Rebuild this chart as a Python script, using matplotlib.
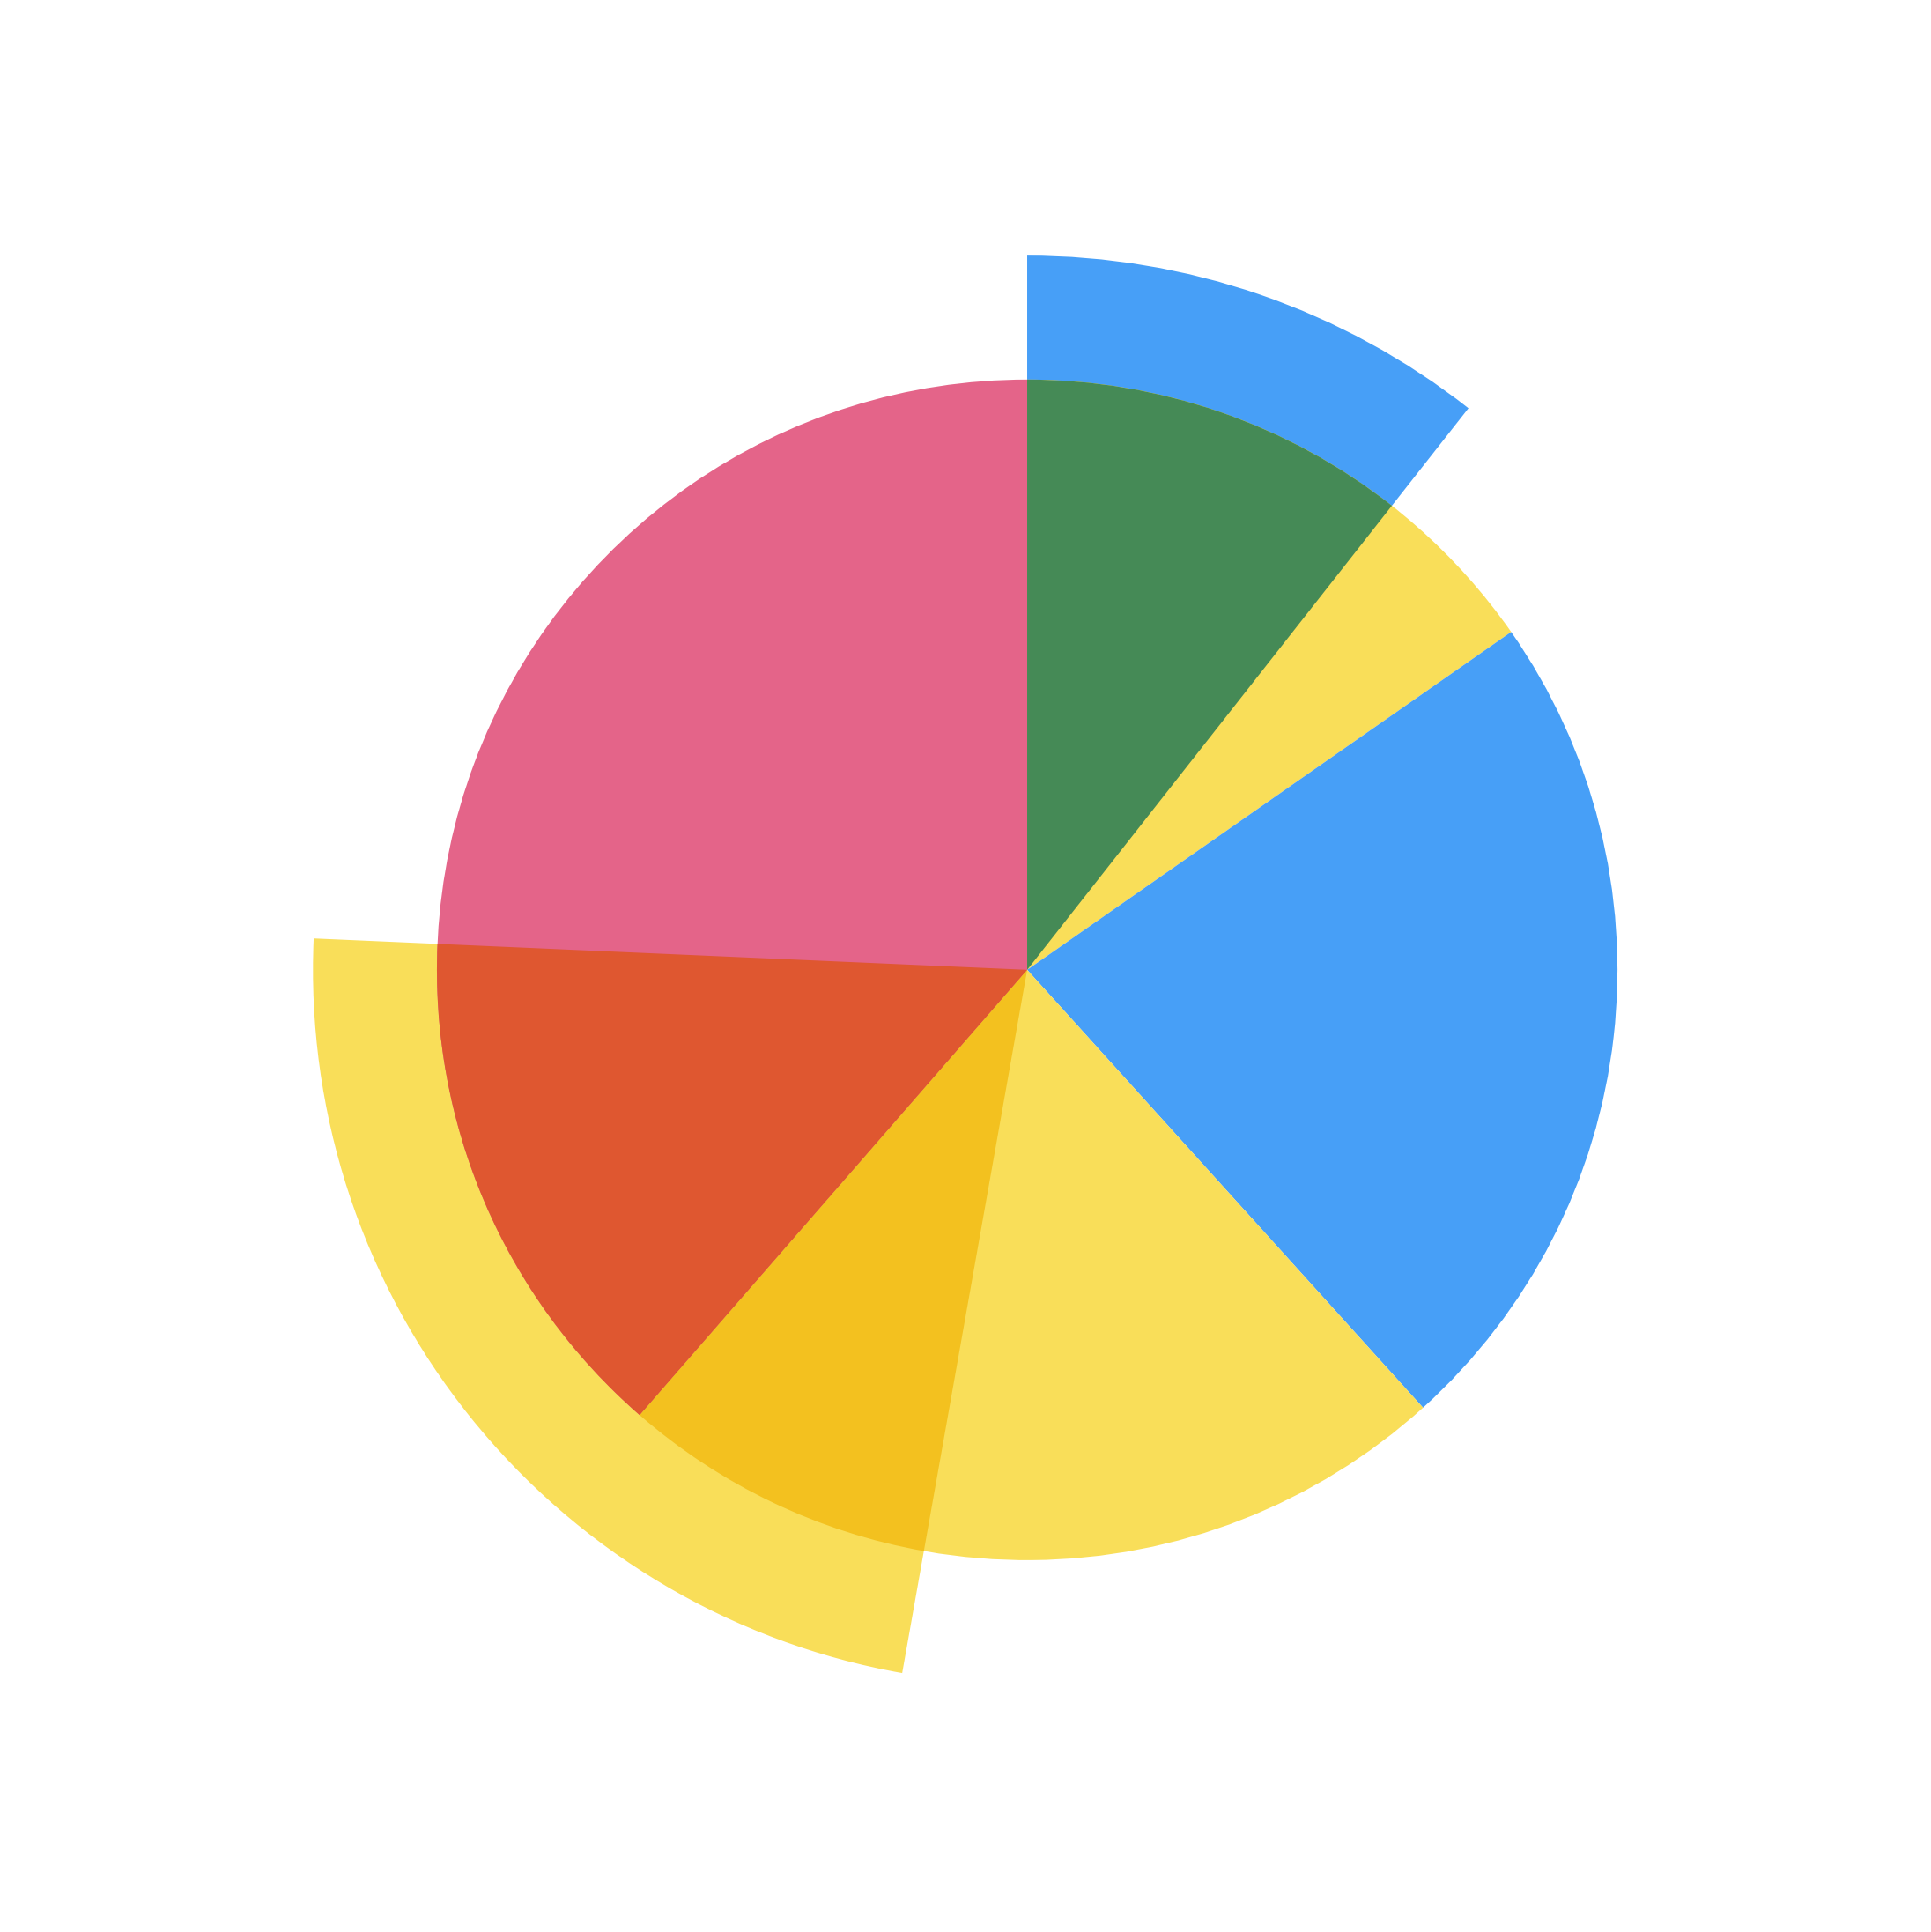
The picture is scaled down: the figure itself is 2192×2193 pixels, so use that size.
import matplotlib
matplotlib.use('Agg')
import matplotlib.pyplot as plt
from matplotlib.patches import Wedge
from matplotlib.colors import to_rgb

# inner ring (full pie), shares in percent, clockwise from 12 o'clock
inner_share = [15.3, 23.0, 23.1, 38.6]
inner_colors = ['#f9de59', '#479ff7', '#f9de59', '#e46489']

# outer layer, gaps are left empty
outer_share = [10.6, 42.2, 22.9, 24.3]
outer_colors = ['#479ff7', 'none', '#f9de59', 'none']

fig = plt.figure(figsize=(21.92, 21.93), dpi=100)
ax = fig.add_axes([0, 0, 1, 1])

outer, _ = ax.pie(outer_share, colors=outer_colors, radius=1.21, startangle=90,
                  counterclock=False, wedgeprops=dict(linewidth=0))
inner, _ = ax.pie(inner_share, colors=inner_colors, radius=1.0, startangle=90,
                  counterclock=False, wedgeprops=dict(linewidth=0))


def multiply(c1, c2):
    a = to_rgb(c1)
    b = to_rgb(c2)
    return tuple(x * y for x, y in zip(a, b))


# overlap of the two layers drawn with a multiply blend
for wo, co in zip(outer, outer_colors):
    if co == 'none':
        continue
    for wi, ci in zip(inner, inner_colors):
        for shift in (-360, 0, 360):
            t1 = max(wo.theta1, wi.theta1 + shift)
            t2 = min(wo.theta2, wi.theta2 + shift)
            if t2 > t1:
                ax.add_patch(Wedge((0, 0), min(wo.r, wi.r), t1, t2,
                                   facecolor=multiply(co, ci), linewidth=0))

ax.set_xlim(-1.740, 1.531)
ax.set_ylim(-1.630, 1.643)
ax.set_aspect('equal')
ax.axis('off')

fig.savefig('out.png', dpi=100)
